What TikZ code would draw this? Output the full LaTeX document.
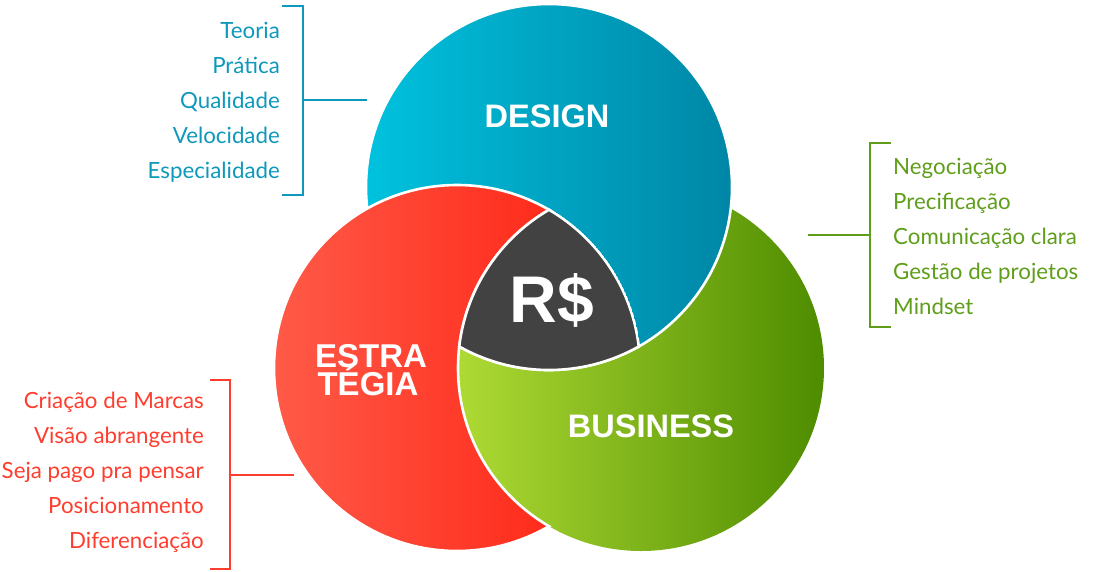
\documentclass[tikz,border=0pt]{standalone}
\usepackage{fontspec}
\setmainfont{Lato}
\newfontfamily\headfont{Liberation Sans}
\definecolor{cBlueL}{HTML}{00C2DE}
\definecolor{cBlueR}{HTML}{0086A6}
\definecolor{cRedL}{HTML}{FF5A48}
\definecolor{cRedR}{HTML}{FF1C0C}
\definecolor{cGreenL}{HTML}{AEDA34}
\definecolor{cGreenR}{HTML}{4E8C00}
\definecolor{cGray}{HTML}{424242}
\definecolor{tBlue}{HTML}{0E98BB}
\definecolor{tGreen}{HTML}{5F9E1A}
\definecolor{tRed}{HTML}{FF3D2E}
\tikzset{
  blueshade/.style={left color=cBlueL, right color=cBlueR},
  redshade/.style={left color=cRedL, right color=cRedR},
  greenshade/.style={left color=cGreenL, right color=cGreenR},
  wline/.style={draw=white, line width=2.6pt},
  head/.style={text=white, font=\headfont\bfseries\fontsize{32.5}{34}\selectfont, inner sep=0pt},
  item/.style={font=\fontsize{22.3}{26}\selectfont, inner sep=0pt},
  bl/.style={item, text=tBlue, anchor=base east},
  gl/.style={item, text=tGreen, anchor=base west},
  rl/.style={item, text=tRed, anchor=base east},
  bbr/.style={draw=tBlue, line width=2pt},
  gbr/.style={draw=tGreen, line width=2pt},
  rbr/.style={draw=tRed, line width=2pt},
}
\begin{document}
\begin{tikzpicture}[x=1pt,y=-1pt]
\useasboundingbox (0,0) rectangle (1097,571);
\coordinate (cB) at (549,187);
\coordinate (cR) at (457,368);
\coordinate (cG) at (641,368);
\def\rr{183}
\def\re{184.3}
% green under blue
\shade[greenshade] (cG) circle[radius=\rr];
% blue over green
\shade[blueshade] (cB) circle[radius=\rr];
\draw[wline] (cB) circle[radius=\rr];
% red over blue, under green
\begin{scope}[even odd rule]
  \clip (0,0) rectangle (1097,571) (cG) circle[radius=\rr];
  \shade[redshade] (cR) circle[radius=\rr];
  \draw[wline] (cR) circle[radius=\rr];
\end{scope}
% green edge over red
\begin{scope}
  \clip (cR) circle[radius=\re];
  \draw[wline] (cG) circle[radius=\rr];
\end{scope}
% centre
\begin{scope}
  \clip (cB) circle[radius=\rr];
  \clip (cR) circle[radius=\rr];
  \clip (cG) circle[radius=\rr];
  \fill[cGray] (300,150) rectangle (800,450);
\end{scope}
\begin{scope}
  \clip (cB) circle[radius=\re];
  \clip (cR) circle[radius=\re];
  \clip (cG) circle[radius=\re];
  \draw[wline] (cB) circle[radius=\rr];
  \draw[wline] (cR) circle[radius=\rr];
  \draw[wline] (cG) circle[radius=\rr];
\end{scope}
% headings
\node[head, anchor=base] (design) at (547,127) {DESIGN};
\node[head, anchor=base] (business) at (651,437) {BUSINESS};
\node[head, anchor=base, font=\headfont\bfseries\fontsize{66}{66}\selectfont] (rs) at (552,322) {R\$};
\node[head, anchor=base, font=\headfont\bfseries\fontsize{33}{28}\selectfont] (estra1) at (371,367) {ESTRA};
\node[head, anchor=base, font=\headfont\bfseries\fontsize{33}{28}\selectfont] (estra2) at (368,395) {TÉGIA};
% blue list
\node[bl] (b1) at (280,38) {Teoria};
\node[bl] (b2) at (280,73) {Prática};
\node[bl] (b3) at (280,108) {Qualidade};
\node[bl] (b4) at (280,143) {Velocidade};
\node[bl] (b5) at (280,178) {Especialidade};
\coordinate (bt) at (282,6);
\coordinate (bT) at (303,6);
\coordinate (bB) at (303,195);
\coordinate (bb) at (282,195);
\coordinate (bm) at (303,100);
\coordinate (bc) at (367,100);
\draw[bbr] (bt) -- (bT) -- (bB) -- (bb);
\draw[bbr] (bm) -- (bc);
% green list
\node[gl] (g1) at (893,174) {Negociação};
\node[gl] (g2) at (893,209) {Precificação};
\node[gl] (g3) at (893,244) {Comunicação clara};
\node[gl] (g4) at (893,279) {Gestão de projetos};
\node[gl] (g5) at (893,314) {Mindset};
\coordinate (gt) at (891,143);
\coordinate (gT) at (870,143);
\coordinate (gB) at (870,327);
\coordinate (gb) at (891,327);
\coordinate (gm) at (870,235);
\coordinate (gc) at (808,235);
\draw[gbr] (gt) -- (gT) -- (gB) -- (gb);
\draw[gbr] (gm) -- (gc);
% red list
\node[rl] (r1) at (204,408) {Criação de Marcas};
\node[rl] (r2) at (204,443) {Visão abrangente};
\node[rl] (r3) at (204,478) {Seja pago pra pensar};
\node[rl] (r4) at (204,513) {Posicionamento};
\node[rl] (r5) at (204,548) {Diferenciação};
\coordinate (rt) at (210,380);
\coordinate (rT) at (230,380);
\coordinate (rB) at (230,569);
\coordinate (rb) at (210,569);
\coordinate (rm) at (230,475);
\coordinate (rc) at (294,475);
\draw[rbr] (rt) -- (rT) -- (rB) -- (rb);
\draw[rbr] (rm) -- (rc);
\end{tikzpicture}
\end{document}
